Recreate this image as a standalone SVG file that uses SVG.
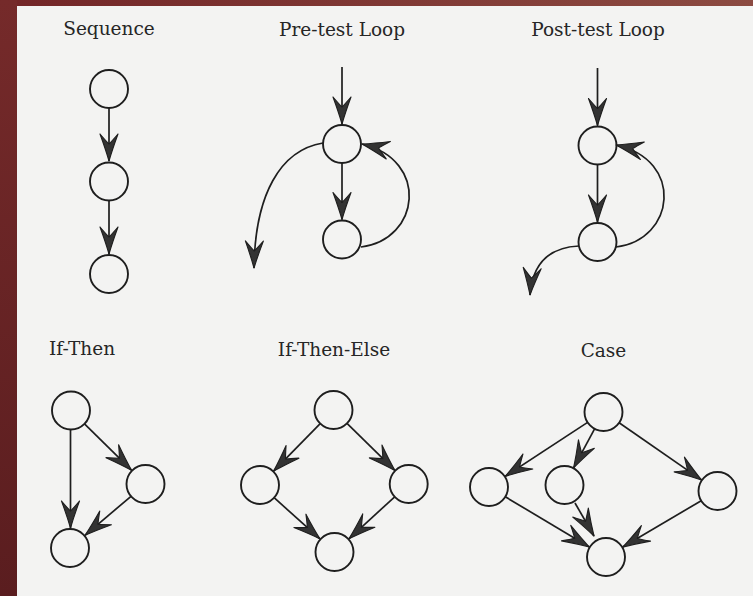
<svg xmlns="http://www.w3.org/2000/svg" width="753" height="596" viewBox="0 0 753 596">
  <defs>
    <linearGradient id="leftBar" x1="0" y1="0" x2="0" y2="1">
      <stop offset="0" stop-color="#752a2a"/>
      <stop offset="1" stop-color="#5a1d1f"/>
    </linearGradient>
    <linearGradient id="topBar" x1="0" y1="0" x2="1" y2="0">
      <stop offset="0" stop-color="#722527"/>
      <stop offset="1" stop-color="#8c4b42"/>
    </linearGradient>
    <marker id="arr" markerUnits="userSpaceOnUse" viewBox="-30 -11 32 22" markerWidth="32" markerHeight="22" refX="0" refY="0" orient="auto" overflow="visible">
      <path d="M0,0 Q-12,-3.5 -27,-9 Q-20,-3 -17,0 Q-20,3 -27,9 Q-12,3.5 0,0 Z" fill="#333" stroke="#1e1e1e" stroke-width="1.1" stroke-linejoin="round"/>
    </marker>
    <style>
      .node { fill: none; stroke: #1e1e1e; stroke-width: 1.9; }
      .edge { fill: none; stroke: #1e1e1e; stroke-width: 1.7; marker-end: url(#arr); }
      .title { font-family: "DejaVu Serif", "Liberation Serif", serif; font-size: 18.5px; fill: #262626; text-anchor: middle; }
    </style>
  </defs>

  <rect x="0" y="0" width="753" height="596" fill="#f3f3f2"/>
  <rect x="0" y="0" width="753" height="6" fill="url(#topBar)"/>
  <rect x="0" y="0" width="17" height="596" fill="url(#leftBar)"/>

  <g id="titles">
    <text class="title" x="109" y="35">Sequence</text>
    <text class="title" x="342" y="36">Pre-test Loop</text>
    <text class="title" x="598" y="36">Post-test Loop</text>
    <text class="title" x="82" y="355">If-Then</text>
    <text class="title" x="334" y="356">If-Then-Else</text>
    <text class="title" x="603.5" y="357">Case</text>
  </g>

  <g id="connectors">
    <!-- Sequence -->
    <path class="edge" d="M109,108 L109,161"/>
    <path class="edge" d="M109,200.5 L109,254"/>
    <!-- Pre-test loop -->
    <path class="edge" d="M342,67 L342,124"/>
    <path class="edge" d="M342,163 L342,219.5"/>
    <path class="edge" d="M323,143 C280,150 255,195 254,268"/>
    <path class="edge" d="M361,247 C420,240 430,160 362,144"/>
    <!-- Post-test loop -->
    <path class="edge" d="M597.5,68 L597.5,125.5"/>
    <path class="edge" d="M597.5,164.5 L597.5,222"/>
    <path class="edge" d="M616,247 C675,240 685,160 616,145"/>
    <path class="edge" d="M579,246 C555,247 533,258 530,295"/>
    <!-- If-Then -->
    <path class="edge" d="M70.5,429.5 L70.5,528"/>
    <path class="edge" d="M84.5,423.8 L131.5,470.2"/>
    <path class="edge" d="M131,496.3 L85,535.3"/>
    <!-- If-Then-Else -->
    <path class="edge" d="M320.2,423.6 L273.6,471.1"/>
    <path class="edge" d="M347,423.3 L394.9,470.4"/>
    <path class="edge" d="M274.1,497.7 L320,538.9"/>
    <path class="edge" d="M394.7,496.8 L348.9,538.8"/>
    <!-- Case -->
    <path class="edge" d="M587.6,422.4 L505.3,476.3"/>
    <path class="edge" d="M594.6,428.8 L573.6,467.8"/>
    <path class="edge" d="M619.1,422.8 L701.5,479.9"/>
    <path class="edge" d="M505.3,496.8 L589.3,547"/>
    <path class="edge" d="M575,503 L594,536"/>
    <path class="edge" d="M701.2,500.7 L622.7,547.1"/>
  </g>

  <g id="seq-1"><circle class="node" cx="109" cy="89" r="19"/></g>
  <g id="seq-2"><circle class="node" cx="109" cy="181.5" r="19"/></g>
  <g id="seq-3"><circle class="node" cx="109" cy="274" r="19"/></g>

  <g id="pre-1"><circle class="node" cx="342" cy="144" r="19"/></g>
  <g id="pre-2"><circle class="node" cx="342" cy="239.5" r="19"/></g>

  <g id="post-1"><circle class="node" cx="597.5" cy="145.5" r="19"/></g>
  <g id="post-2"><circle class="node" cx="597.5" cy="242" r="19"/></g>

  <g id="ifthen-top"><circle class="node" cx="71" cy="410.5" r="19"/></g>
  <g id="ifthen-right"><circle class="node" cx="145.5" cy="484" r="19"/></g>
  <g id="ifthen-bottom"><circle class="node" cx="70" cy="548" r="19"/></g>

  <g id="ite-top"><circle class="node" cx="333.5" cy="410" r="19"/></g>
  <g id="ite-left"><circle class="node" cx="260" cy="485" r="19"/></g>
  <g id="ite-right"><circle class="node" cx="408.7" cy="484" r="19"/></g>
  <g id="ite-bottom"><circle class="node" cx="334.5" cy="552" r="19"/></g>

  <g id="case-top"><circle class="node" cx="603.5" cy="412" r="19"/></g>
  <g id="case-left"><circle class="node" cx="489" cy="487" r="19"/></g>
  <g id="case-middle"><circle class="node" cx="564.5" cy="485" r="19"/></g>
  <g id="case-right"><circle class="node" cx="717.5" cy="491" r="19"/></g>
  <g id="case-bottom"><circle class="node" cx="606" cy="557" r="19"/></g>
</svg>
